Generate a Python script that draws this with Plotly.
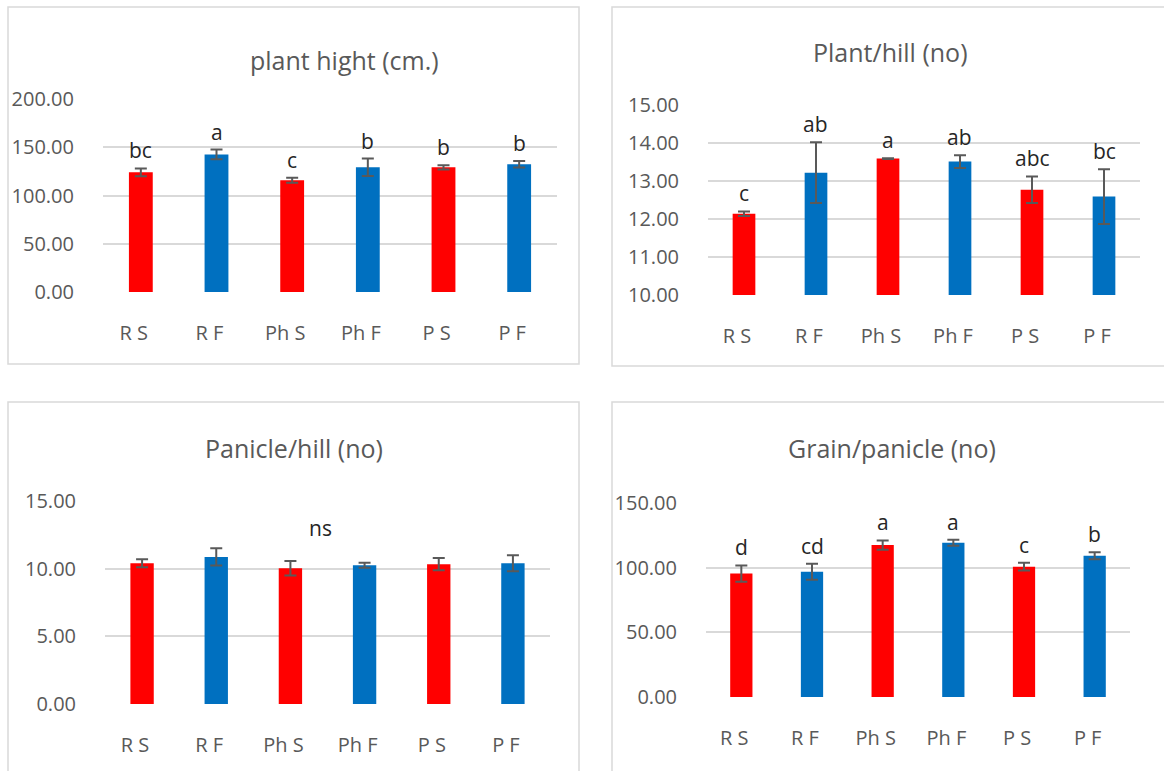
import plotly.graph_objects as go

# ---------------- data ----------------
categories = ["R S", "R F", "Ph S", "Ph F", "P S", "P F"]

height_vals = [124.0, 142.6, 115.8, 129.2, 129.2, 132.3]
height_err = [4.0, 5.0, 2.6, 9.1, 2.2, 3.4]
height_letters = ["bc", "a", "c", "b", "b", "b"]

plant_hill_vals = [12.14, 13.22, 13.59, 13.51, 12.77, 12.59]
plant_hill_err = [0.06, 0.80, 0.01, 0.17, 0.35, 0.72]
plant_hill_letters = ["c", "ab", "a", "ab", "abc", "bc"]

panicle_vals = [10.40, 10.87, 10.03, 10.25, 10.33, 10.40]
panicle_err = [0.30, 0.64, 0.54, 0.18, 0.45, 0.60]
panicle_note = "ns"

grain_vals = [95.4, 96.9, 117.5, 119.3, 100.8, 109.3]
grain_err = [6.3, 6.2, 3.6, 2.3, 3.0, 2.7]
grain_letters = ["d", "cd", "a", "a", "c", "b"]

titles = ["plant hight (cm.)", "Plant/hill (no)", "Panicle/hill (no)", "Grain/panicle (no)"]

# ---------------- style ----------------
RED = "#FF0000"
BLUE = "#0070C0"
bar_colors = [RED, BLUE, RED, BLUE, RED, BLUE]
GRID = "#D9D9D9"
TXT = "#595959"
FONT = "Open Sans"
W, H = 1164, 771

fig = go.Figure()

panels = [
    dict(v=height_vals, e=height_err, L=height_letters, xd=(103, 557), yd=(99, 292),
         rng=[0, 200], dt=50, tpos=(344, 60), box=(8, 7, 579, 364)),
    dict(v=plant_hill_vals, e=plant_hill_err, L=plant_hill_letters, xd=(708, 1140), yd=(105, 295),
         rng=[10, 15], dt=1, tpos=(891, 52), box=(612, 7, 1175, 366)),
    dict(v=panicle_vals, e=panicle_err, L=None, xd=(105, 550), yd=(501, 704),
         rng=[0, 15], dt=5, tpos=(294, 448), box=(8, 402, 579, 780)),
    dict(v=grain_vals, e=grain_err, L=grain_letters, xd=(706, 1130), yd=(503, 697),
         rng=[0, 150], dt=50, tpos=(892, 448), box=(612, 402, 1175, 780)),
]

annotations = []
shapes = []
for i, p in enumerate(panels):
    n = i + 1
    xa = "x" if n == 1 else f"x{n}"
    ya = "y" if n == 1 else f"y{n}"
    fig.add_trace(go.Bar(
        x=categories, y=p["v"], xaxis=xa, yaxis=ya,
        marker=dict(color=bar_colors, line=dict(width=0)),
        error_y=dict(type="data", array=p["e"], visible=True,
                     color="#595959", thickness=2, width=6),
        showlegend=False, hoverinfo="x+y",
    ))
    xkey = "xaxis" if n == 1 else f"xaxis{n}"
    ykey = "yaxis" if n == 1 else f"yaxis{n}"
    fig.update_layout({
        xkey: dict(domain=[p["xd"][0] / W, p["xd"][1] / W], anchor=ya,
                   showgrid=False, showline=False, zeroline=False, ticks="",
                   automargin=False,
                   tickfont=dict(family=FONT, size=20, color=TXT),
                   ticklabelstandoff=27, ticklabelshift=-7, fixedrange=True),
        ykey: dict(domain=[1 - p["yd"][1] / H, 1 - p["yd"][0] / H], anchor=xa,
                   range=p["rng"], dtick=p["dt"], tick0=0, tickformat=".2f",
                   showgrid=True, gridcolor=GRID, gridwidth=1.5,
                   showline=False, zeroline=False, ticks="",
                   automargin=False,
                   tickfont=dict(family=FONT, size=20, color=TXT),
                   ticklabelstandoff=28, fixedrange=True),
    })
    annotations.append(dict(
        text=titles[i], xref="paper", yref="paper",
        x=p["tpos"][0] / W, y=1 - p["tpos"][1] / H, xanchor="center", yanchor="middle",
        showarrow=False, font=dict(family=FONT, size=25, color=TXT)))
    if p["L"] is not None:
        for c, v, e, lab in zip(categories, p["v"], p["e"], p["L"]):
            annotations.append(dict(
                text=lab, xref=xa, yref=ya, x=c, y=v + e,
                xanchor="center", yanchor="bottom", yshift=2,
                showarrow=False, font=dict(family=FONT, size=21, color="#262626")))
    bx0, by0, bx1, by1 = p["box"]
    shapes.append(dict(type="rect", xref="paper", yref="paper",
                       x0=bx0 / W, x1=bx1 / W, y0=1 - by1 / H, y1=1 - by0 / H,
                       line=dict(color=GRID, width=1.5), fillcolor="rgba(0,0,0,0)",
                       layer="below"))

annotations.append(dict(
    text=panicle_note, xref="x3", yref="y3", x=2.4, y=13.0,
    xanchor="center", yanchor="middle", showarrow=False,
    font=dict(family=FONT, size=21, color="#262626")))

fig.update_layout(
    width=W, height=H,
    margin=dict(l=0, r=0, t=0, b=0, pad=0, autoexpand=False),
    paper_bgcolor="white", plot_bgcolor="white",
    bargap=0.685,
    annotations=annotations, shapes=shapes,
    font=dict(family=FONT, color=TXT),
)

fig.write_html(
    "out.html",
    config={"displayModeBar": False},
    post_script="document.body.style.margin='0';document.body.style.overflow='hidden';",
)
